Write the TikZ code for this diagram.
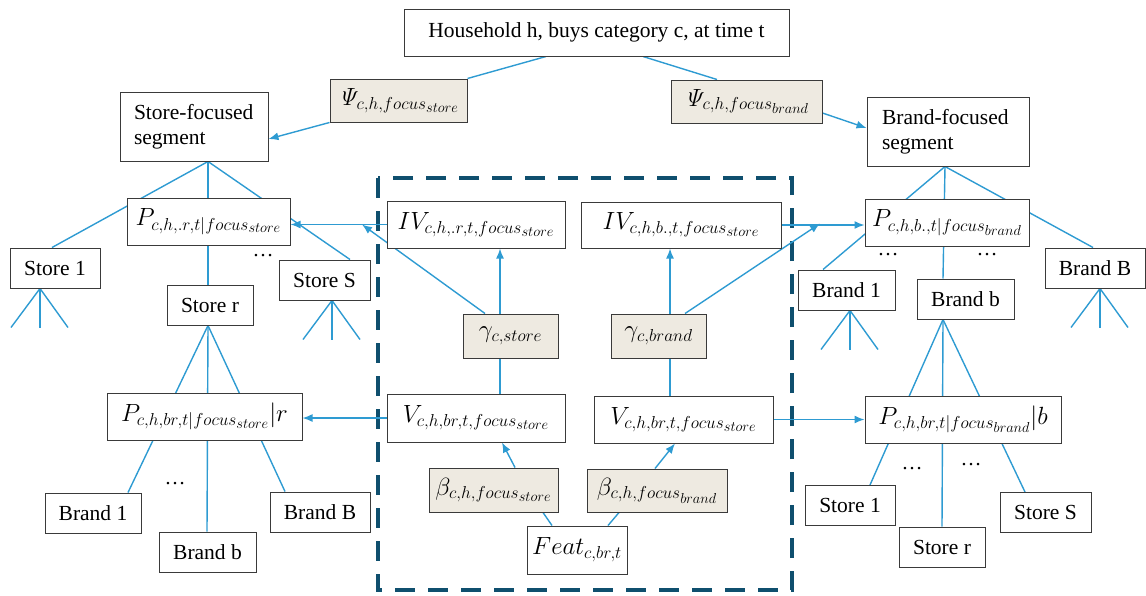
\documentclass[tikz,border=0pt]{standalone}
\usepackage[no-math]{fontspec}
\setmainfont{Liberation Serif}
\usetikzlibrary{arrows.meta,backgrounds}
\DeclareMathSizes{23}{23}{18}{14}
\definecolor{LinkBlue}{HTML}{2E9BD2}
\definecolor{FrameTeal}{HTML}{0F4F6E}
\definecolor{ParamBeige}{HTML}{EEEAE1}
\definecolor{EdgeGray}{HTML}{3A3A3A}

\begin{document}
\begin{tikzpicture}[x=1pt, y=-1pt,
    box/.style={draw=EdgeGray, line width=1pt, fill=white, inner sep=0pt, minimum height=40pt, font=\fontsize{21.5}{25}\selectfont},
    mbox/.style={box, minimum height=47pt, font=\fontsize{23}{26}\selectfont},
    pbox/.style={mbox, fill=ParamBeige, minimum height=44pt},
    dotsnode/.style={inner sep=0pt, font=\fontsize{21}{25}\selectfont},
    link/.style={draw=LinkBlue, line width=1.4pt},
    arr/.style={link, -{Latex[length=10pt,width=8pt]}},
    dashframe/.style={draw=FrameTeal, line width=4.5pt, dash pattern=on 20pt off 13pt}]
        \useasboundingbox (0,0) rectangle (1146,595);
        \node[box, minimum width=385pt, minimum height=47pt] (hh) at (596.5,32.5) {Household h, buys category c, at time t};
        \node[pbox, minimum width=137pt, minimum height=43pt] (psis) at (398.5,100.5) {$\mathit{\Psi}_{c,h,focus_{store}}$};
        \node[pbox, minimum width=151pt, minimum height=43pt] (psib) at (746.5,101.5) {$\mathit{\Psi}_{c,h,focus_{brand}}$};
        \node[box, minimum width=148pt, minimum height=69pt, text width=120pt, align=left] (segs) at (194,126.5) {Store-focused\\segment};
        \node[box, minimum width=162pt, minimum height=69pt, text width=132pt, align=left] (segb) at (948,131.5) {Brand-focused\\segment};
        \node[mbox, minimum width=163pt] (ps) at (208.5,221.5) {$P_{c,h,.r,t|focus_{store}}$};
        \node[mbox, minimum width=178pt] (ivs) at (476,224.5) {$IV_{c,h,.r,t,focus_{store}}$};
        \node[mbox, minimum width=200pt, minimum height=46pt] (ivb) at (681,225) {$IV_{c,h,b.,t,focus_{store}}$};
        \node[mbox, minimum width=164pt] (pb) at (947,222.5) {$P_{c,h,b.,t|focus_{brand}}$};
        \node[pbox, minimum width=95pt] (gs) at (510.5,336) {$\gamma_{c,store}$};
        \node[pbox, minimum width=95pt] (gb) at (658.5,336) {$\gamma_{c,brand}$};
        \node[mbox, minimum width=195pt] (psr) at (204.5,416.5) {$P_{c,h,br,t|focus_{store}}|r$};
        \node[mbox, minimum width=178pt, minimum height=48pt] (vs) at (476,418) {$V_{c,h,br,t,focus_{store}}$};
        \node[mbox, minimum width=179pt] (vb) at (683.5,419.5) {$V_{c,h,br,t,focus_{store}}$};
        \node[mbox, minimum width=196pt] (pbb) at (963,419.5) {$P_{c,h,br,t|focus_{brand}}|b$};
        \node[pbox, minimum width=129pt] (bs) at (493.5,490) {$\beta_{c,h,focus_{store}}$};
        \node[pbox, minimum width=140pt, minimum height=43pt] (bb) at (657,490.5) {$\beta_{c,h,focus_{brand}}$};
        \node[mbox, minimum width=100pt, minimum height=48pt] (feat) at (577,550) {$Feat_{c,br,t}$};
        \foreach \n/\x/\y/\w/\t in {st1/55/268/90/Store 1, str/210/305/86/Store r, stS/324.5/280/91/Store S,
            br1/846.5/290/97/Brand 1, brb/965.5/299/97/Brand b, brB/1095/268/100/Brand B,
            lbr1/93/513/96/Brand 1, lbrb/207.5/552/97/Brand b, lbrB/320/512/100/Brand B,
            rst1/850/505.5/90/Store 1, rstr/942/547/86/Store r, rstS/1045.5/512.5/91/Store S} {
            \node[box, minimum width=\w pt] (\n) at (\x,\y) {\t};
        }
        \foreach \n/\x/\y in {dl/263/256, dr1/888/255, dr2/987/255, dlb/175/484, drb1/912/469, drb2/971/465} {
            \node[dotsnode] (\n) at (\x,\y) {\dots};
        }
        \coordinate (hits) at (362,224.5);
        \coordinate (hitb) at (820,223.5);
        \begin{scope}[on background layer]
            \draw[dashframe] (378,178) rectangle (792,590);
            \draw[link] ([xshift=-50.5pt]hh.south) -- (psis.north east);
            \draw[link] ([xshift=46.5pt]hh.south) -- ([xshift=-29.5pt]psib.north);
            \draw[arr] (psis.south west) -- ([yshift=-12.5pt]segs.east);
            \draw[arr] ([yshift=-11.5pt]psib.east) -- ([yshift=3.5pt]segb.west);
            \foreach \t/\s in {st1/-3, str/-2, stS/25.5}
                \draw[link] ([xshift=14pt]segs.south) -- ([xshift=\s pt]\t.north);
            \foreach \t/\s in {br1/-23.5, brb/-22.5, brB/-2}
                \draw[link] ([xshift=-3pt]segb.south) -- ([xshift=\s pt]\t.north);
            \foreach \t/\s in {lbr1/35, lbrb/-0.5, lbrB/-35}
                \draw[link] ([xshift=-2pt]str.south) -- ([xshift=\s pt]\t.north);
            \foreach \t/\s in {rst1/20, rstr/0, rstS/-20.5}
                \draw[link] ([xshift=-22.5pt]brb.south) -- ([xshift=\s pt]\t.north);
            \foreach \n/\s in {st1/-15, stS/7.5, br1/3.5, brB/5}
                \foreach \dx in {-29,0,28}
                    \draw[link] ([xshift=\s pt]\n.south) -- ++(\dx,39);
            \draw[arr] (ivs.west) -- (ps.east |- ivs.west);
            \draw[arr] (ivb.east) -- (pb.west |- ivb.east);
            \draw[arr] ([xshift=-25.5pt]gs.north) -- (hits);
            \draw[arr] ([xshift=26.5pt]gb.north) -- (hitb);
            \draw[arr] ([xshift=-10.5pt]gs.north) -- ([xshift=-10.5pt]gs.north |- ivs.south);
            \draw[arr] ([xshift=11.5pt]gb.north) -- ([xshift=11.5pt]gb.north |- ivb.south);
            \draw[link] ([xshift=-10.5pt]gs.south) -- ([xshift=-10.5pt]gs.south |- vs.north);
            \draw[link] ([xshift=11.5pt]gb.south) -- ([xshift=11.5pt]gb.south |- vb.north);
            \draw[arr] (vs.west) -- (psr.east |- vs.west);
            \draw[arr] (vb.east) -- (pbb.west |- vb.east);
            \draw[arr] ([xshift=21.5pt]bs.north) -- ([xshift=26pt]vs.south);
            \draw[arr] ([xshift=-2pt]bb.north) -- ([xshift=-8.5pt]vb.south);
            \draw[link] ([xshift=-25pt]feat.north) -- ([xshift=49.5pt]bs.south);
            \draw[link] ([xshift=31pt]feat.north) -- ([xshift=-38pt]bb.south);
        \end{scope}
    \end{tikzpicture}
\end{document}
